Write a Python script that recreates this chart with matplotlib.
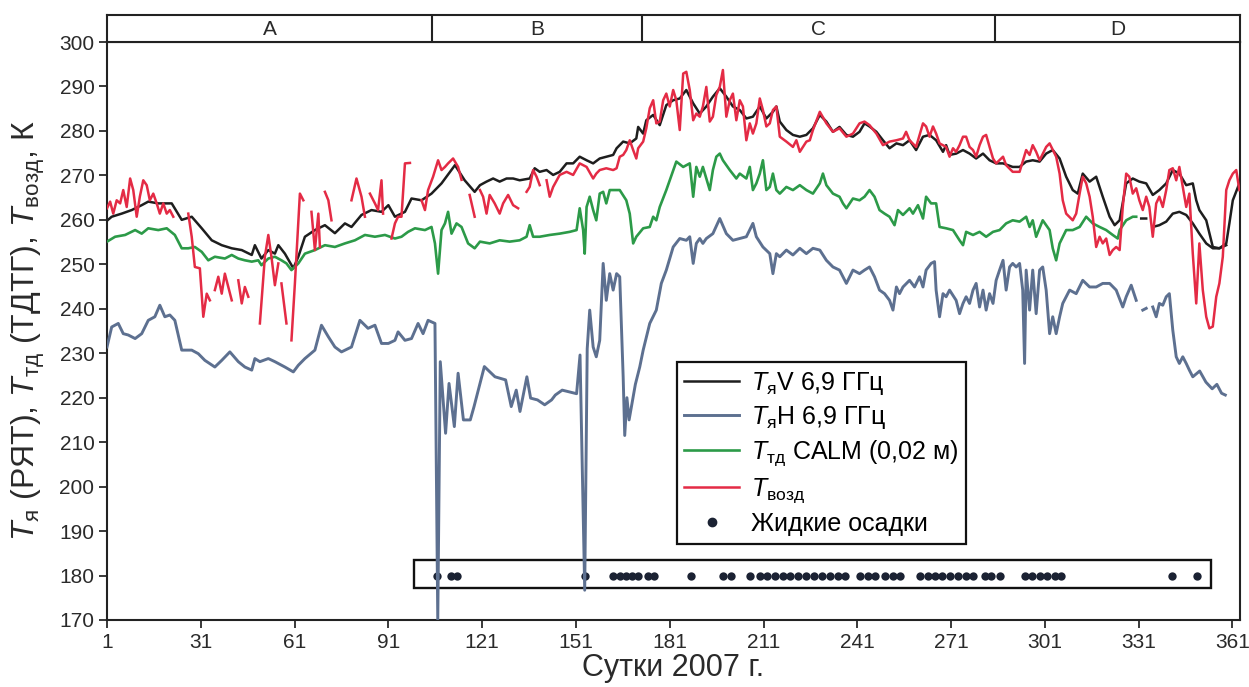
import numpy as np
import matplotlib
matplotlib.use("Agg")
import matplotlib.pyplot as plt
from matplotlib.patches import Rectangle
from matplotlib.lines import Line2D

plt.rcParams['font.family'] = ['Liberation Sans', 'DejaVu Sans']
plt.rcParams['mathtext.fontset'] = 'custom'
plt.rcParams['mathtext.rm'] = 'Liberation Sans'
plt.rcParams['mathtext.it'] = 'Liberation Sans:italic'
plt.rcParams['mathtext.bf'] = 'Liberation Sans:bold'

nan = np.nan

# --- T_я V 6,9 GHz (black) ---
tv_day = [1, 2.5, 5.7, 8.9, 12.1, 14.2, 17.4, 21.7, 24.9, 28.1, 31.3, 34.5, 37.7, 40.9, 44.1, 47.3, 48.3,
          50.4, 52.6, 54.7, 55.8, 57.9, 60.6, 62.2, 64.3, 67.5, 70.7, 73.9, 77.1, 79.2, 82.4, 85.6, 88.8,
          91.0, 93.1, 96.3, 98.4, 101.6, 104.8, 108.0, 112.3, 115.4, 118.6,
          120.3, 122.4, 124.5, 126.6, 128.8, 130.9, 133.0, 136.2, 137.8, 139.4, 141.6, 143.7, 145.8, 148.0,
          150.1, 152.2, 154.4, 156.5, 158.6, 160.7, 162.9, 164.0, 166.1, 168.2, 170.3, 170.9, 172.5, 173.5,
          175.7, 177.8, 179.9, 182.1, 184.2, 186.3, 188.5, 190.6, 192.7, 194.8, 197.0, 199.1, 201.2, 203.4,
          205.5, 207.6, 209.8, 211.9, 214.0, 215.1, 216.2, 218.3, 220.4, 222.6, 224.7, 226.8, 229.0, 231.1,
          233.2, 235.3, 237.5, 239.6, 241.7,
          243.3, 244.9, 247.1, 249.2, 251.3, 253.5, 255.6, 257.7, 259.8, 262.0, 264.1, 266.2, 268.4, 269.4,
          270.5, 272.6, 274.8, 276.9, 279.0, 281.2, 283.3, 285.4, 287.6, 290.7, 292.9, 295.0, 297.1, 299.3,
          301.4, 303.5, 305.7, 307.8, 309.9, 311.5, 313.1, 315.3, 317.4, 319.5, 321.7, 323.3, 324.9, 327.0,
          329.1, 331.2, 333.4, 335.5, 337.6, 339.8, 341.9, 344.0, 346.2, 348.3, 349.4, 350.4, 352.6, 354.7,
          356.8, 359.0, 360.0, 361.1, 363.2]
tv_val = [259.8, 260.7, 261.4, 262.2, 263.3, 264.1, 263.7, 263.7, 260.0, 260.7, 258.1, 255.4, 254.3, 253.6,
          253.2, 252.1, 254.3, 251.3, 253.2, 252.4, 254.3, 252.4, 249.1, 251.7, 256.2, 257.7, 258.8, 257.0,
          259.2, 258.4, 261.1, 262.2, 261.8, 263.3, 260.7, 261.8, 264.8, 264.4, 265.9, 268.2, 272.3, 268.9,
          266.3,
          267.8, 268.6, 269.3, 268.6, 269.3, 269.3, 268.9, 269.3, 271.6, 270.8, 271.2, 270.1, 270.8, 272.7,
          272.7, 274.2, 273.4, 272.7, 273.8, 274.2, 274.6, 276.1, 277.6, 277.2, 278.3, 280.9, 279.4, 282.4,
          283.6, 281.3, 285.8, 286.9, 287.3, 289.2, 286.2, 283.9, 285.5, 287.7, 289.6, 287.7, 285.5, 284.7,
          282.8, 283.2, 285.5, 282.8, 284.3, 285.5, 282.1, 280.2, 279.1, 278.7, 279.1, 280.6, 283.6, 282.1,
          279.8, 280.9, 279.1, 278.7, 279.8,
          281.7, 281.0, 279.8, 277.9, 276.1, 277.2, 276.8, 277.9, 275.7, 278.7, 279.1, 277.9, 275.3, 276.8,
          274.6, 274.9, 275.7, 274.9, 273.8, 274.9, 273.4, 272.7, 272.7, 271.9, 271.9, 273.1, 273.4, 273.1,
          274.9, 275.7, 273.8, 269.7, 266.7, 265.9, 270.4, 268.6, 269.7, 265.2, 260.7, 258.8, 259.9, 268.2,
          269.3, 268.6, 268.2, 265.6, 266.7, 268.2, 271.2, 270.4, 267.8, 268.2, 264.4, 262.2, 259.9, 253.9,
          253.6, 254.7, 259.2, 264.4, 268.2]

# second black trace at the end of the year
tv2_day = [331.8, 333.4, 334.2, 335.5, 337.6, 339.8, 341.9, 344.0, 346.2, 348.3, 350.4, 352.6, 354.7, 356.8, 359.0]
tv2_val = [260.3, 260.3, nan, 258.4, 258.8, 259.6, 261.4, 261.8, 261.1, 259.2, 256.9, 254.7, 253.6, 253.6, 254.3]

# --- T_я H 6,9 GHz (blue-grey) ---
th_day = [1, 2.5, 4.6, 6.2, 7.8, 10.0, 12.1, 14.2, 16.3, 17.9, 19.5, 21.1, 22.7, 24.9, 28.1, 30.2, 32.3,
          35.5, 37.7, 40.3, 43.0, 45.1, 47.3, 48.3, 49.9, 52.6, 54.7, 57.9, 60.6, 62.2, 64.3, 67.5, 69.6,
          71.8, 73.9, 76.0, 79.2, 81.9, 84.5, 86.7, 88.8, 91.0, 93.1, 94.1, 96.3, 98.4, 100.5, 102.1, 103.7,
          105.9, 106.8,
          107.6, 109.3, 110.4, 112.1, 113.3, 115.0, 117.2, 118.4, 121.7, 125.1, 128.5, 130.3, 131.9, 133.1,
          135.3, 136.5, 138.7, 141.0, 143.2, 144.4, 146.6, 148.9, 151.2, 152.3, 153.8, 154.6,
          155.4, 156.5, 157.5, 158.6, 159.7, 160.7, 161.8, 162.9, 164.0, 165.0, 165.5, 166.1, 166.6, 167.3,
          168.0, 169.0, 170.0, 171.4, 172.5, 174.6, 176.7, 178.3, 179.9, 182.1, 184.2, 186.3, 187.4, 188.5,
          189.5, 190.6, 191.6, 192.7, 194.8, 197.0, 199.1, 201.2, 203.4, 205.5, 207.6, 208.7, 210.8, 213.0,
          214.0, 215.1, 216.2, 218.3, 220.4, 222.6, 224.7, 226.8, 229.0, 231.1, 233.2, 235.3, 237.5, 239.6,
          241.7,
          243.3, 244.9, 246.5, 248.1, 249.7, 251.3, 252.4, 253.5, 254.5, 255.6, 257.7, 259.3, 260.9, 262.0,
          263.0, 264.6, 265.7, 266.2, 267.3, 268.4, 269.4, 270.5, 272.6, 273.7, 274.8, 275.8, 276.9, 278.0,
          279.0, 280.1, 281.2, 282.2, 283.3, 284.4, 285.4, 286.5, 287.6, 288.6, 289.7, 290.7, 291.8, 292.9,
          293.9, 294.5, 295.0, 296.1, 297.1, 298.2, 299.3, 300.3, 301.4, 302.5, 303.5, 304.6, 305.7, 306.7,
          307.8, 308.9, 311.0, 313.1, 315.3, 317.4, 319.5, 321.7, 323.8, 325.9, 327.0, 328.6, 330.2, 331.2,
          332.3, 333.4, 334.4,
          335.5, 336.6, 337.6, 338.7, 339.8, 340.8, 341.9, 343.0, 344.0, 345.1, 346.2, 347.2, 348.3, 350.5,
          352.5, 354.5, 356.0, 357.5, 358.7]
th_val = [231.4, 235.9, 236.7, 234.4, 234.1, 233.3, 234.4, 237.4, 238.2, 240.8, 238.2, 238.6, 237.4, 230.7,
          230.7, 229.9, 228.4, 226.9, 228.4, 230.3, 228.1, 226.9, 226.2, 228.8, 228.1, 228.8, 228.1, 226.9,
          225.8, 227.3, 228.8, 230.7, 236.3, 233.7, 231.4, 230.3, 231.4, 237.4, 235.6, 236.3, 232.2, 232.2,
          232.9, 234.8, 232.9, 233.3, 236.7, 234.4, 237.4, 236.7, 170.0,
          228.1, 212.0, 223.2, 213.5, 225.5, 215.0, 215.0, 218.0, 227.0, 224.7, 224.0, 218.0, 221.7, 216.9,
          224.7, 219.9, 219.5, 218.4, 219.5, 220.6, 221.7, 221.3, 220.9, 229.6, 176.7, 231.0,
          239.7, 231.4, 229.2, 232.9, 250.2, 241.9, 247.9, 244.2, 247.9, 247.2, 236.7, 224.7, 211.5, 220.0,
          215.0, 219.0, 223.0, 226.9, 230.7, 236.7, 239.7, 245.7, 248.7, 253.9, 255.8, 255.4, 256.2, 250.2,
          254.7, 255.8, 254.7, 255.8, 256.9, 260.3, 256.9, 255.4, 255.8, 256.2, 259.2, 256.2, 253.9, 252.4,
          247.9, 252.4, 251.7, 253.2, 252.1, 253.6, 252.4, 253.6, 253.2, 250.9, 249.4, 248.7, 245.7, 248.7,
          247.9,
          248.7, 249.4, 247.2, 244.2, 243.4, 241.9, 239.7, 244.9, 243.4, 244.9, 246.4, 244.9, 247.2, 244.9,
          248.7, 250.2, 250.6, 244.2, 238.2, 243.4, 242.7, 244.2, 241.9, 238.9, 241.2, 242.7, 241.2, 244.2,
          245.7, 240.4, 244.2, 239.7, 243.4, 241.2, 246.4, 248.7, 250.9, 244.2, 249.4, 250.2, 249.4, 250.2,
          244.2, 227.7, 248.7, 239.7, 248.7, 238.9, 248.7, 249.4, 244.2, 234.4, 238.2, 234.4, 238.2, 241.2,
          242.7, 244.2, 243.4, 246.4, 244.9, 244.9, 245.7, 245.7, 244.2, 240.4, 242.7, 245.3, 241.9, nan,
          239.7, 240.1, nan,
          240.4, 238.2, 241.2, 240.8, 242.7, 243.4, 235.2, 229.2, 227.7, 229.2, 227.7, 226.2, 224.7, 226.0,
          223.5, 222.0, 223.0, 221.0, 220.6]

# --- T_тд CALM 0,02 m (green) ---
ts_day = [1, 3.6, 6.8, 10.0, 12.1, 14.2, 17.4, 20.1, 22.7, 24.9, 27.0, 29.1, 31.3, 33.4, 35.5, 38.7, 40.9,
          43.0, 45.1, 47.3, 49.4, 50.4, 52.6, 54.7, 56.8, 58.4, 60.0, 62.2, 64.3, 67.5, 70.7, 73.9, 77.1,
          80.3, 83.5, 86.7, 89.9, 93.1, 95.2, 97.3, 99.5, 102.7, 104.8, 105.9, 106.9, 108.0, 109.1, 110.1,
          111.2, 112.8, 114.4, 116.5, 118.6,
          120.3, 123.4, 126.6, 129.8, 133.0, 135.2, 136.2, 137.3, 139.4, 142.6, 145.8, 149.0, 151.2, 152.2,
          153.3, 153.8, 154.4, 155.4, 156.5, 157.5, 158.6, 159.7, 160.7, 161.8, 162.9, 165.0, 167.1, 168.2,
          169.3, 170.3, 172.5, 174.6, 175.7, 176.7, 177.8, 179.9, 181.0, 183.1, 185.3, 187.4, 188.5, 189.5,
          190.6, 191.6, 193.8, 194.8, 195.9, 197.0, 198.0, 200.2, 202.3, 203.4, 205.5, 206.6, 207.6, 208.7,
          209.8, 210.8, 211.9, 213.0, 214.0, 215.1, 216.2, 218.3, 220.4, 222.6, 224.7, 226.8, 229.0, 230.0,
          231.1, 233.2, 235.3, 236.4, 237.5, 239.6,
          241.7, 243.3, 244.9, 246.5, 248.1, 249.7, 251.3, 252.9, 254.0, 255.6, 257.7, 258.8, 260.4, 262.0,
          263.0, 264.6, 266.2, 267.3, 269.4, 271.6, 273.7, 274.8, 275.8, 278.0, 280.1, 282.2, 284.4, 286.5,
          288.6, 290.7, 292.9, 295.0, 296.1, 297.1, 298.2, 300.3, 302.5, 303.5, 304.6, 305.7, 307.8, 309.9,
          312.1, 314.2, 316.3, 318.5, 320.6, 322.7, 324.3, 324.9, 327.0, 329.1, 330.2]
ts_val = [255.1, 256.2, 256.6, 257.7, 256.9, 258.1, 257.7, 258.1, 256.6, 253.6, 253.6, 253.9, 252.8, 250.9,
          251.7, 251.3, 252.1, 251.3, 250.9, 250.6, 250.9, 249.8, 251.3, 251.7, 250.9, 250.2, 248.7, 250.2,
          252.4, 253.2, 254.3, 253.9, 254.7, 255.4, 256.6, 256.2, 256.6, 255.8, 256.2, 257.3, 258.1, 257.7,
          258.4, 254.7, 247.9, 257.7, 259.2, 261.8, 256.9, 259.2, 258.4, 254.7, 253.6,
          255.1, 254.7, 255.4, 255.1, 255.4, 256.2, 258.8, 256.2, 256.2, 256.6, 256.9, 257.3, 257.7, 262.6,
          257.7, 252.4, 262.9, 265.2, 262.2, 259.9, 265.9, 266.3, 263.7, 266.7, 266.7, 266.7, 264.4, 261.4,
          254.7, 256.2, 258.1, 258.4, 260.7, 259.9, 262.9, 266.7, 268.9, 273.1, 271.9, 272.7, 265.2, 271.9,
          269.7, 271.9, 266.7, 271.2, 274.2, 274.9, 273.4, 271.2, 269.3, 270.4, 269.3, 271.9, 266.7, 268.2,
          270.4, 273.4, 266.7, 267.4, 270.4, 266.7, 265.9, 267.4, 266.7, 267.8, 266.7, 265.9, 268.2, 270.4,
          267.8, 265.9, 265.2, 263.7, 262.6, 264.8,
          264.4, 265.2, 266.7, 265.2, 262.2, 261.4, 260.7, 258.8, 262.2, 261.1, 262.6, 261.4, 263.3, 260.3,
          265.2, 263.7, 263.7, 258.4, 258.1, 257.7, 255.4, 254.3, 257.3, 256.6, 257.3, 256.2, 257.3, 257.7,
          259.2, 259.9, 259.6, 260.7, 258.4, 259.9, 256.2, 259.9, 257.7, 253.6, 250.9, 254.7, 257.7, 257.7,
          258.4, 260.7, 259.2, 258.4, 257.7, 256.6, 255.8, 257.7, 259.9, 260.7, 260.7]

# --- T_возд (red), gaps = missing data ---
ta_day = [1, 2.0, 3.0, 4.1, 5.2, 6.2, 7.3, 8.4, 9.4, 10.5, 11.5, 12.6, 13.7, 14.7, 15.8, 16.9, 17.9, 19.0,
          20.1, 21.1, 22.2, 24.5,
          27.0, 28.1, 29.1, 30.7, 31.8, 32.9, 33.9, 34.7,
          35.5, 36.6, 37.7, 38.7, 39.8, 40.9, 42.0,
          43.0, 44.1, 45.1, 46.2, 48.0,
          49.9, 51.5, 52.6, 53.6, 54.7, 55.8, 56.3,
          56.8, 58.4, 59.2,
          60.0, 61.1, 62.7, 63.8, 65.0,
          66.4, 67.5, 68.6, 69.1, 70.0,
          70.7, 71.8, 72.8, 76.0,
          79.2, 80.8, 82.4, 83.5, 84.3,
          85.1, 86.7, 87.7, 88.8, 89.3, 90.5,
          92.0, 93.1, 94.1, 95.2, 96.3, 97.9, 99.5,
          101.6, 102.7, 103.7, 105.3, 106.9, 108.0, 109.1, 110.1, 111.7, 113.3, 114.4, 115.5,
          117.0, 118.6, 119.5,
          120.3, 121.3, 122.4, 123.4, 125.0, 126.6, 127.7, 129.3, 130.9, 132.5, 134.0,
          135.2, 136.2, 137.3, 138.4, 139.4, 140.5,
          141.6, 142.6, 143.7, 145.8, 148.0, 150.1, 152.2, 154.4, 156.5, 157.5, 158.6, 160.7, 162.9, 164.0,
          165.0, 166.1, 167.1, 168.2, 169.3, 170.3, 170.9, 172.5, 173.5, 174.6, 175.7, 176.7, 177.8, 178.9,
          179.9, 181.0, 182.1, 183.1, 184.2, 185.3, 186.3, 187.4, 188.5, 189.5, 190.6, 191.6, 192.7, 193.8,
          194.8, 195.9, 197.0, 198.0, 199.1, 200.2, 201.2, 202.3, 203.4, 204.4, 205.5, 206.6, 207.6, 208.7,
          209.8, 210.8, 211.9, 213.0, 214.0, 215.1, 216.2, 218.3, 220.4, 221.5, 222.6, 224.7, 225.8, 226.8,
          229.0, 231.1, 233.2, 235.3, 237.5, 239.6, 241.7,
          243.3, 244.9, 247.1, 249.2, 251.3, 253.5, 255.6, 256.6, 257.7, 259.8, 262.0, 263.0, 264.1, 265.2,
          266.2, 267.3, 269.4, 270.5, 271.6, 272.6, 273.7, 274.8, 275.8, 276.9, 278.0, 279.0, 280.1, 281.2,
          282.2, 283.3, 284.4, 285.4, 287.6, 288.6, 290.7, 292.9, 293.9, 295.0, 296.1, 297.1, 298.2, 299.3,
          301.4, 302.5, 304.6, 305.7, 306.7, 307.8, 309.9, 311.0, 312.1, 313.1, 314.2, 315.3, 316.3, 317.4,
          318.5, 319.5, 320.6, 321.7, 322.7, 323.8, 324.9, 325.9, 327.0, 328.0, 329.1, 330.2, 331.2, 332.3,
          333.4, 334.4, 335.5, 336.6, 337.6, 338.7, 339.8, 340.8, 341.9, 343.0, 344.0, 345.1, 346.2, 347.2,
          348.3, 349.4, 350.4, 351.5, 352.6, 353.6, 354.7, 355.8, 356.8, 357.9, 359.0, 360.0, 361.1, 362.2,
          363.2]
ta_val = [262.6, 264.1, 261.4, 264.4, 263.7, 266.7, 262.9, 269.3, 266.7, 260.7, 265.2, 268.9, 267.8, 264.4,
          265.9, 263.7, 261.4, 263.7, 261.4, 262.2, 260.7, nan,
          261.4, 256.2, 249.4, 249.1, 238.2, 243.4, 241.9, nan,
          244.2, 247.2, 243.4, 247.9, 244.9, 241.9, nan,
          246.4, 241.2, 244.9, 242.7, nan,
          236.7, 251.7, 256.6, 251.7, 245.3, 250.2, nan,
          245.7, 236.7, nan,
          232.9, 245.7, 265.9, 264.4, nan,
          261.8, 253.2, 261.4, 253.9, nan,
          266.3, 264.4, 259.9, nan,
          264.4, 269.3, 265.2, 260.7, nan,
          265.9, 263.7, 262.2, 268.9, 261.4, nan,
          255.8, 259.2, 260.7, 260.7, 272.7, 272.8, nan,
          264.4, 262.2, 266.7, 269.7, 273.4, 271.2, 271.9, 272.7, 273.8, 271.9, 269.0, nan,
          265.6, 260.7, nan,
          266.7, 265.2, 261.4, 265.6, 263.7, 261.4, 263.7, 265.6, 263.3, 262.6, nan,
          266.3, 267.4, 271.2, 269.7, 267.8, nan,
          268.9, 265.2, 267.4, 270.1, 270.8, 270.1, 272.7, 271.9, 269.3, 270.4, 271.2, 271.6, 271.2, 271.6,
          274.2, 274.6, 275.7, 277.9, 275.7, 273.8, 276.1, 277.6, 280.6, 285.1, 286.9, 281.7, 282.1, 286.9,
          288.4, 285.5, 289.2, 286.9, 280.2, 292.9, 293.3, 289.2, 282.4, 283.9, 283.2, 285.5, 289.9, 282.1,
          283.2, 288.1, 289.9, 293.7, 283.2, 286.9, 288.4, 282.4, 286.9, 285.5, 277.9, 281.7, 279.4, 281.7,
          287.3, 284.7, 281.0, 281.7, 284.7, 285.5, 278.7, 277.6, 276.4, 277.9, 275.3, 277.6, 277.9, 280.2,
          284.3, 281.7, 279.8, 280.6, 278.7, 279.4, 281.7,
          282.1, 281.3, 279.4, 276.8, 277.6, 277.9, 278.3, 279.8, 277.9, 276.4, 281.7, 281.0, 278.7, 281.0,
          279.4, 277.2, 276.4, 274.2, 276.1, 275.3, 276.8, 278.7, 278.7, 276.4, 275.7, 274.2, 276.8, 278.7,
          279.1, 276.4, 273.8, 272.7, 274.2, 272.3, 270.8, 270.8, 273.1, 275.7, 274.6, 276.8, 275.3, 273.4,
          276.4, 277.2, 274.2, 270.4, 264.4, 261.4, 259.9, 261.4, 265.9, 269.7, 268.2, 265.2, 260.7, 253.9,
          256.2, 254.7, 255.8, 252.1, 253.2, 253.9, 253.2, 262.9, 270.4, 269.7, 265.9, 267.1, 264.4, 262.2,
          265.2, 262.9, 256.2, 263.7, 265.2, 262.9, 266.7, 271.2, 271.6, 268.9, 271.9, 267.4, 262.9, 265.9,
          252.4, 241.2, 254.7, 244.2, 238.2, 235.6, 236.0, 242.7, 245.7, 251.7, 266.7, 268.9, 270.4, 271.2,
          266.7]

# --- liquid precipitation days ---
rain_day = [106.7, 111.0, 113.0, 153.8, 163.0, 165.0, 167.0, 169.0, 171.0, 174.0, 176.0, 187.7, 198.0,
            200.5, 206.6, 209.8, 212.0, 214.6, 217.1, 219.4, 222.0, 224.5, 227.0, 229.6, 232.1, 234.7,
            236.9, 241.7, 244.3, 246.8, 249.7, 252.3, 254.5, 260.9, 263.5, 265.7, 268.0, 270.5, 273.1,
            275.6, 277.9, 281.7, 283.9, 286.5, 294.5, 297.0, 299.3, 301.8, 304.1, 306.3, 341.5, 349.5]
rain_level = 180

# periods shown in the top strip
period_edges = [1, 105, 172, 285, 363.4]
period_names = ['A', 'B', 'C', 'D']

xticks = list(range(1, 362, 30))
yticks = list(range(170, 301, 10))

c_black = '#1e1e1e'
c_blue = '#5d7090'
c_green = '#2c9a48'
c_red = '#e42b45'
c_text = '#2a2a2a'

fig = plt.figure(figsize=(12.49, 6.87), dpi=100)
L, R, B, T = 107 / 1249, 1240 / 1249, 1 - 620 / 687, 1 - 42 / 687
ax = fig.add_axes([L, B, R - L, T - B])
band = fig.add_axes([L, T, R - L, (42 - 15) / 687])

ax.plot(tv_day, tv_val, color=c_black, lw=1.8, zorder=3)
ax.plot(tv2_day, tv2_val, color=c_black, lw=1.8, zorder=3)
ax.plot(th_day, th_val, color=c_blue, lw=2.1, zorder=3)
ax.plot(ts_day, ts_val, color=c_green, lw=1.9, zorder=3)
ax.plot(ta_day, ta_val, color=c_red, lw=1.8, zorder=4)

ax.scatter(rain_day, [rain_level] * len(rain_day), s=36, color='#1b2233', zorder=2, linewidths=0)
ax.add_patch(Rectangle((99.1, 177.2), 354.0 - 99.1, 6.3, fill=False, edgecolor='#111111', lw=1.7, zorder=1))

ax.set_xlim(period_edges[0], period_edges[-1])
ax.set_ylim(170, 300)
ax.set_xticks(xticks)
ax.set_yticks(yticks)
ax.tick_params(direction='out', length=6, width=1.3, labelsize=15, colors=c_text, pad=3)
for s in ax.spines.values():
    s.set_linewidth(1.5)
    s.set_color('#222222')

ax.set_xlabel('Сутки 2007 г.', fontsize=22, color=c_text, labelpad=1)
ax.set_ylabel(r'$T_{\mathrm{я}}$ (РЯТ), $T_{\mathrm{тд}}$ (ТДТГ), $T_{\mathrm{возд}}$, К',
              fontsize=23, color=c_text)
ax.yaxis.set_label_coords(-0.053, 0.5)

band.set_xlim(period_edges[0], period_edges[-1])
band.set_ylim(0, 1)
band.set_xticks([])
band.set_yticks([])
for s in band.spines.values():
    s.set_linewidth(1.5)
    s.set_color('#222222')
for i, name in enumerate(period_names):
    if i > 0:
        band.axvline(period_edges[i], color='#222222', lw=1.5)
    band.text((period_edges[i] + period_edges[i + 1]) / 2, 0.45, name, ha='center', va='center',
              fontsize=15, color=c_text)

handles = [Line2D([], [], color=c_black, lw=1.8),
           Line2D([], [], color=c_blue, lw=2.1),
           Line2D([], [], color=c_green, lw=1.9),
           Line2D([], [], color=c_red, lw=1.8),
           Line2D([], [], color='#1b2233', lw=0, marker='o', markersize=6)]
labels = [r'$T_{\mathrm{я}}$V 6,9 ГГц',
          r'$T_{\mathrm{я}}$H 6,9 ГГц',
          r'$T_{\mathrm{тд}}$ CALM (0,02 м)',
          r'$T_{\mathrm{возд}}$',
          'Жидкие осадки']
leg = ax.legend(handles, labels, loc='upper left', bbox_to_anchor=(0.503, 0.446), borderaxespad=0,
                fontsize=18, handlelength=2.2, handletextpad=0.45, labelspacing=0.3,
                fancybox=False, framealpha=1, edgecolor='#111111', borderpad=0.3)
leg.get_frame().set_linewidth(1.6)

fig.savefig('out.png', dpi=100)
